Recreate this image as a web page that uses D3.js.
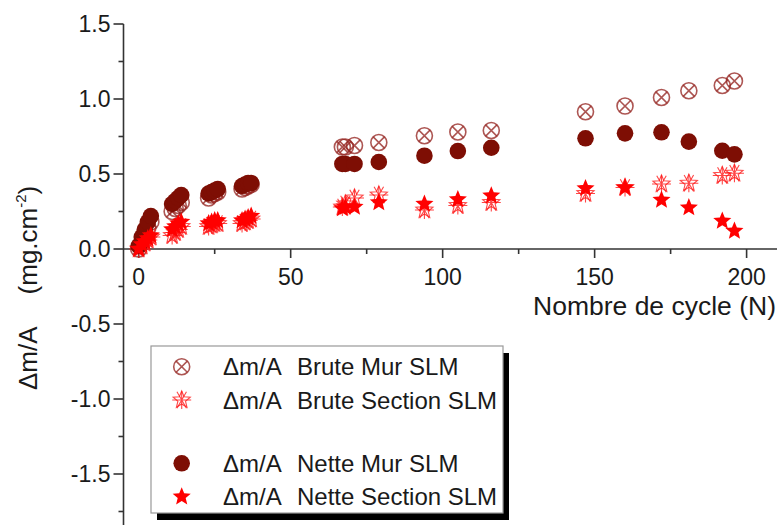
<!DOCTYPE html>
<html>
<head>
<meta charset="utf-8">
<script src="https://cdn.jsdelivr.net/npm/d3@7"></script>
<style>
  html, body { margin: 0; padding: 0; background: #fff; }
  svg { display: block; font-family: "Liberation Sans", Arial, sans-serif; }
</style>
</head>
<body>
<svg id="chart" width="778" height="525"></svg>
<script>
// ---- Data ----
const cycles       = [0, 1, 2, 3, 4, 11, 12, 13, 14, 23, 24, 25, 26, 34, 35, 36, 37, 67, 68, 71, 79, 94, 105, 116, 147, 160, 172, 181, 192, 196];
const bruteMur     = [0.00, 0.04, 0.10, 0.14, 0.18, 0.25, 0.27, 0.29, 0.31, 0.34, 0.36, 0.37, 0.38, 0.40, 0.41, 0.42, 0.43, 0.68, 0.68, 0.69, 0.71, 0.755, 0.78, 0.79, 0.915, 0.953, 1.01, 1.055, 1.09, 1.12];
const bruteSection = [0.00, 0.02, 0.04, 0.06, 0.08, 0.09, 0.11, 0.13, 0.15, 0.15, 0.16, 0.17, 0.17, 0.17, 0.18, 0.19, 0.20, 0.28, 0.30, 0.34, 0.36, 0.26, 0.29, 0.31, 0.37, 0.41, 0.433, 0.438, 0.49, 0.505];
const netteMur     = [0.02, 0.08, 0.13, 0.18, 0.22, 0.30, 0.32, 0.34, 0.36, 0.37, 0.38, 0.39, 0.40, 0.42, 0.43, 0.44, 0.44, 0.567, 0.567, 0.567, 0.58, 0.622, 0.653, 0.675, 0.738, 0.771, 0.778, 0.716, 0.655, 0.631];
const netteSection = [0.00, 0.03, 0.05, 0.07, 0.09, 0.13, 0.15, 0.17, 0.18, 0.17, 0.18, 0.19, 0.19, 0.19, 0.20, 0.21, 0.22, 0.27, 0.28, 0.28, 0.31, 0.30, 0.33, 0.355, 0.404, 0.409, 0.327, 0.276, 0.187, 0.12];

const xTicks = [0, 50, 100, 150, 200];
const xMinorTicks = [25, 75, 125, 175];
const yTicks = [-1.5, -1.0, -0.5, 0.0, 0.5, 1.0, 1.5];
const yMinorTicks = [-1.75, -1.25, -0.75, -0.25, 0.25, 0.75, 1.25];

const seriesNames = ["Brute Mur SLM", "Brute Section SLM", "Nette Mur SLM", "Nette Section SLM"];
const xTitle = "Nombre de cycle (N)";

// ---- Scales ----
const svg = d3.select("#chart");
const x = d3.scaleLinear().domain([-5, 210]).range([123.5, 777]);
const y = d3.scaleLinear().domain([-2, 1.5]).range([549, 24]);
const axisColor = "#333";
const textColor = "#1a1a1a";

// ---- Marker shapes ----
function starPath(R, r) {
  const pts = [];
  for (let i = 0; i < 10; i++) {
    const a = -Math.PI / 2 + i * Math.PI / 5;
    const rad = i % 2 ? r : R;
    pts.push([rad * Math.cos(a), rad * Math.sin(a)]);
  }
  return "M" + pts.map(p => p[0].toFixed(2) + "," + p[1].toFixed(2)).join("L") + "Z";
}
function drawMarker(g, kind) {
  if (kind === 0) {
    g.append("circle").attr("r", 8).attr("fill", "none").attr("stroke", "#962622").attr("stroke-width", 1.6).attr("opacity", 0.78);
    g.append("path").attr("d", "M-5.6,-5.6L5.6,5.6M-5.6,5.6L5.6,-5.6").attr("stroke", "#962622").attr("stroke-width", 1.5).attr("opacity", 0.78);
  } else if (kind === 1) {
    const R = 9.5;
    let spokes = "";
    for (let i = 0; i < 6; i++) {
      const a = -Math.PI / 2 + i * Math.PI / 3 + Math.PI / 6;
      spokes += "M0,0L" + (R * Math.cos(a)).toFixed(2) + "," + (R * Math.sin(a)).toFixed(2);
    }
    g.append("path").attr("d", starPath(9, 4)).attr("fill", "none").attr("stroke", "#ff1a1a").attr("stroke-width", 1.1).attr("opacity", 0.8);
    g.append("path").attr("d", spokes + "M0,-9L0,9").attr("stroke", "#ff1a1a").attr("stroke-width", 1.1).attr("opacity", 0.8);
  } else if (kind === 2) {
    g.append("circle").attr("r", 8.3).attr("fill", "#7e0e04");
  } else {
    g.append("path").attr("d", starPath(9.5, 4.2)).attr("fill", "#ff0000");
  }
}

// ---- Axes ----
const xAxisG = svg.append("g").attr("transform", `translate(0,${y(0)})`);
xAxisG.append("line").attr("x1", x.range()[0]).attr("x2", x.range()[1]).attr("stroke", axisColor).attr("stroke-width", 1.6);
xAxisG.selectAll("line.maj").data(xTicks).join("line").attr("class", "maj")
  .attr("x1", d => x(d)).attr("x2", d => x(d)).attr("y1", 0).attr("y2", 9)
  .attr("stroke", axisColor).attr("stroke-width", 1.6);
xAxisG.selectAll("line.min").data(xMinorTicks).join("line").attr("class", "min")
  .attr("x1", d => x(d)).attr("x2", d => x(d)).attr("y1", 0).attr("y2", 5)
  .attr("stroke", axisColor).attr("stroke-width", 1.6);
xAxisG.selectAll("text").data(xTicks).join("text")
  .attr("x", d => x(d)).attr("y", 36).attr("text-anchor", "middle")
  .attr("font-size", 23).attr("fill", textColor).text(d => d);

const yAxisG = svg.append("g").attr("transform", `translate(${x(-5)},0)`);
yAxisG.append("line").attr("y1", y(1.5)).attr("y2", y(-2)).attr("stroke", axisColor).attr("stroke-width", 1.6);
yAxisG.selectAll("line.maj").data(yTicks).join("line").attr("class", "maj")
  .attr("y1", d => y(d)).attr("y2", d => y(d)).attr("x1", -10).attr("x2", 0)
  .attr("stroke", axisColor).attr("stroke-width", 1.6);
yAxisG.selectAll("line.min").data(yMinorTicks).join("line").attr("class", "min")
  .attr("y1", d => y(d)).attr("y2", d => y(d)).attr("x1", -5).attr("x2", 0)
  .attr("stroke", axisColor).attr("stroke-width", 1.6);
yAxisG.selectAll("text").data(yTicks).join("text")
  .attr("x", -13).attr("y", d => y(d)).attr("dy", "0.35em").attr("text-anchor", "end")
  .attr("font-size", 23).attr("fill", textColor).text(d => d.toFixed(1));

// Axis titles
svg.append("text").attr("x", 776).attr("y", 315).attr("text-anchor", "end")
  .attr("font-size", 26.5).attr("fill", textColor).text(xTitle);

const yt = svg.append("text").attr("transform", "translate(37,390) rotate(-90)")
  .attr("font-size", 26).attr("fill", textColor);
yt.append("tspan").text("\u0394m/A");
yt.append("tspan").attr("dx", 32).text("(mg.cm");
yt.append("tspan").attr("font-size", 15).attr("dy", -11).text("-2");
yt.append("tspan").attr("dy", 11).text(")");

// ---- Data points ----
const allSeries = [bruteMur, bruteSection, netteMur, netteSection];
allSeries.forEach((vals, k) => {
  const g = svg.append("g");
  cycles.forEach((c, i) => {
    const m = g.append("g").attr("transform", `translate(${x(c)},${y(vals[i])})`);
    drawMarker(m, k);
  });
});

// ---- Legend ----
const lg = svg.append("g");
lg.append("rect").attr("x", 157).attr("y", 353).attr("width", 352).attr("height", 167).attr("fill", "#000");
lg.append("rect").attr("x", 151).attr("y", 346).attr("width", 352).attr("height", 167)
  .attr("fill", "#fff").attr("stroke", "#999").attr("stroke-width", 1.2);
const rowsY = [366.7, 400, 463.3, 496.7];
seriesNames.forEach((name, k) => {
  const m = lg.append("g").attr("transform", `translate(181.7,${rowsY[k]})`);
  drawMarker(m, k);
  const t = lg.append("text").attr("y", rowsY[k] + 8.5).attr("font-size", 24).attr("fill", textColor);
  t.append("tspan").attr("x", 223).text("\u0394m/A");
  t.append("tspan").attr("x", 297).text(name);
});
</script>
</body>
</html>
